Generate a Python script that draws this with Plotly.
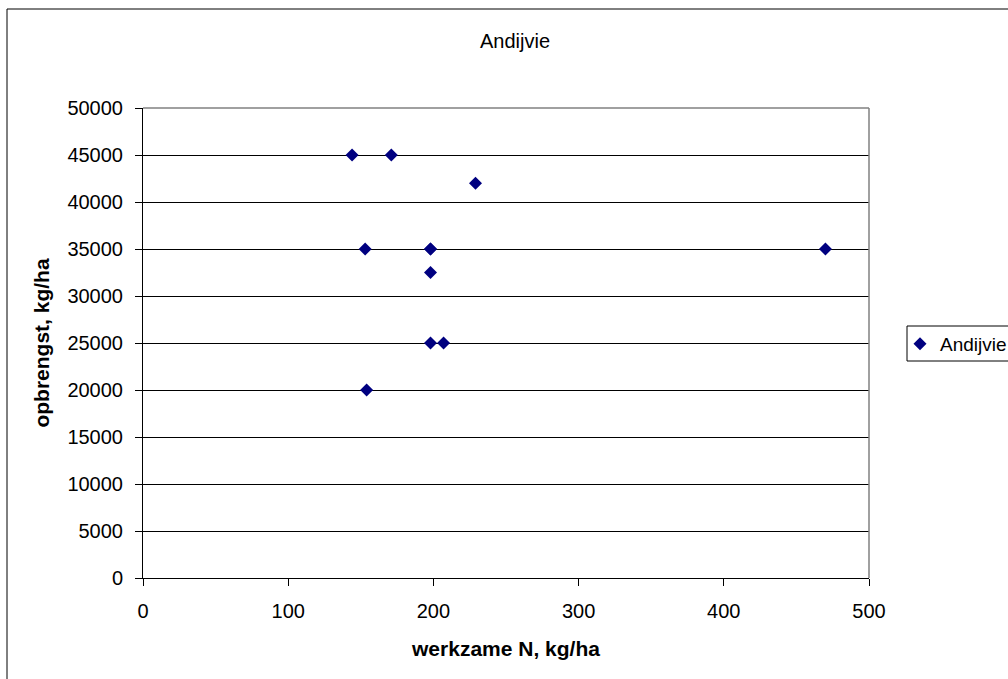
import plotly.graph_objects as go

x_vals = [144, 171, 229, 153, 198, 198, 198, 198, 207, 154, 470]
y_vals = [45000, 45000, 42000, 35000, 35000, 35000, 32500, 25000, 25000, 20000, 35000]
series_name = "Andijvie"
x_ticks = [0, 100, 200, 300, 400, 500]
y_ticks = [0, 5000, 10000, 15000, 20000, 25000, 30000, 35000, 40000, 45000, 50000]

W, H = 1008, 679
L, R, T, B = 143, 869, 108, 578
PW, PH = R - L, B - T


def px_x(p):
    return (p - L) / PW


def px_y(p):
    return (B - p) / PH


fig = go.Figure()
fig.add_trace(go.Scatter(
    x=x_vals, y=y_vals, mode="markers", name=series_name,
    marker=dict(symbol="diamond", size=10, color="#000080", line=dict(width=0)),
))

font = "Liberation Sans, Arial, sans-serif"
fig.update_layout(
    width=W, height=H,
    margin=dict(l=L, r=W - R, t=T, b=H - B, pad=0, autoexpand=False),
    paper_bgcolor="white", plot_bgcolor="white",
    font=dict(family=font, size=20, color="black"),
    title=dict(text="Andijvie", x=515 / W, xanchor="center", y=1 - 41 / H, yanchor="middle",
               font=dict(size=20)),
    showlegend=True,
    legend=dict(x=px_x(900), xanchor="left", y=px_y(344), yanchor="middle",
                borderwidth=0, bgcolor="rgba(0,0,0,0)",
                font=dict(size=19), itemwidth=30, tracegroupgap=0),
    xaxis=dict(range=[0, 500], tickvals=x_ticks, ticks="outside", ticklen=7, tickcolor="black",
               showline=True, linecolor="black", linewidth=1, showgrid=False, zeroline=False,
               tickfont=dict(size=20), ticklabelstandoff=8, tickformat="d",
               title=dict(text="<b>werkzame N, kg/ha</b>", standoff=20, font=dict(size=21))),
    yaxis=dict(range=[0, 50000], tickvals=y_ticks, ticks="outside", ticklen=7, tickcolor="black",
               showline=True, linecolor="black", linewidth=1, showgrid=True, gridcolor="black",
               gridwidth=1, zeroline=False, tickfont=dict(size=20), ticklabelstandoff=8,
               tickformat="d",
               title=dict(text="<b>opbrengst, kg/ha</b>", standoff=12, font=dict(size=21))),
)
# plot area right/top border (gray)
fig.add_shape(type="line", xref="x domain", yref="y domain", x0=1, x1=1, y0=0, y1=1,
              line=dict(color="#808080", width=1.5))
fig.add_shape(type="line", xref="x domain", yref="y domain", x0=0, x1=1, y0=1, y1=1,
              line=dict(color="#808080", width=1.5))
# legend box
fig.add_shape(type="rect", xref="paper", yref="paper",
              x0=px_x(907), x1=px_x(W + 10), y0=px_y(326), y1=px_y(361),
              line=dict(color="black", width=1), fillcolor="rgba(0,0,0,0)")
# outer chart border
fig.add_shape(type="line", xref="paper", yref="paper",
              x0=px_x(7), x1=px_x(W + 5), y0=px_y(9), y1=px_y(9),
              line=dict(color="black", width=1))
fig.add_shape(type="line", xref="paper", yref="paper",
              x0=px_x(7), x1=px_x(7), y0=px_y(9), y1=px_y(H + 5),
              line=dict(color="black", width=1))

fig.write_html("out.html")
